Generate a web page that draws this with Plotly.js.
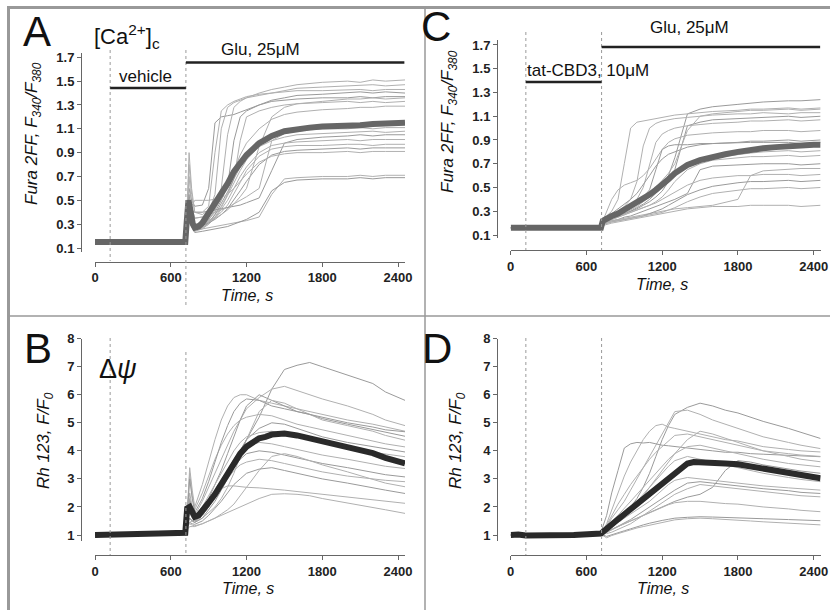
<!DOCTYPE html>
<html><head><meta charset="utf-8">
<script src="https://cdn.plot.ly/plotly-3.0.1.min.js"></script>
<style>html,body{margin:0;padding:0;background:#fff;}#plot{width:830px;height:610px;}</style>
</head><body><div id="plot"></div>
<script>
// ---------- DATA ----------
const xTicks = [0, 600, 1200, 1800, 2400];
const yTicksFura = [0.1, 0.3, 0.5, 0.7, 0.9, 1.1, 1.3, 1.5, 1.7];
const yTicksRh = [1, 2, 3, 4, 5, 6, 7, 8];
const treatStart = 120, gluStart = 720;

// Panel A: Fura 2FF, vehicle
const tCellsA = [0,715,730,745,765,790,850,900,950,1000,1050,1100,1150,1200,1300,1400,1500,1600,1800,2000,2100,2200,2300,2455];
const cellsA = [
 [0.15,0.15,0.35,0.60,0.50,0.45,0.46,0.60,1.15,1.20,1.21,1.22,1.24,1.26,1.30,1.33,1.34,1.35,1.36,1.36,1.37,1.36,1.37,1.37],
 [0.15,0.15,0.40,0.70,0.45,0.35,0.36,0.40,0.55,1.10,1.28,1.32,1.34,1.36,1.38,1.40,1.42,1.44,1.45,1.46,1.46,1.47,1.46,1.47],
 [0.15,0.15,0.45,0.90,0.60,0.40,0.38,0.42,0.48,0.60,1.05,1.28,1.33,1.36,1.40,1.43,1.45,1.47,1.49,1.50,1.49,1.51,1.50,1.51],
 [0.15,0.15,0.35,0.55,0.38,0.30,0.30,0.34,0.40,0.50,0.62,1.00,1.20,1.25,1.30,1.34,1.36,1.38,1.39,1.40,1.41,1.40,1.41,1.40],
 [0.15,0.15,0.30,0.45,0.33,0.27,0.28,0.32,0.38,0.45,0.55,0.68,1.00,1.20,1.25,1.28,1.30,1.31,1.32,1.33,1.32,1.33,1.32,1.33],
 [0.15,0.15,0.30,0.45,0.32,0.26,0.28,0.33,0.42,0.52,0.62,0.75,0.88,0.98,1.10,1.18,1.22,1.24,1.26,1.27,1.28,1.28,1.29,1.29],
 [0.15,0.15,0.28,0.40,0.30,0.25,0.27,0.31,0.38,0.47,0.57,0.68,0.78,0.86,0.98,1.05,1.09,1.11,1.13,1.14,1.14,1.15,1.15,1.15],
 [0.15,0.15,0.28,0.42,0.30,0.24,0.26,0.30,0.36,0.44,0.54,0.65,0.75,0.84,0.95,1.00,1.03,1.05,1.06,1.07,1.07,1.08,1.07,1.08],
 [0.15,0.15,0.30,0.50,0.40,0.35,0.36,0.38,0.40,0.42,0.44,0.47,0.50,0.53,0.60,1.00,1.06,1.08,1.10,1.10,1.11,1.10,1.11,1.11],
 [0.15,0.15,0.30,0.48,0.42,0.40,0.40,0.41,0.42,0.43,0.44,0.45,0.46,0.48,0.52,0.75,0.98,1.01,1.03,1.04,1.05,1.04,1.05,1.05],
 [0.15,0.15,0.28,0.40,0.30,0.25,0.27,0.30,0.35,0.42,0.50,0.60,0.70,0.78,0.90,0.96,0.98,0.99,1.00,1.01,1.00,1.01,1.01,1.01],
 [0.15,0.15,0.30,0.45,0.35,0.30,0.31,0.33,0.36,0.40,0.46,0.55,0.65,0.75,0.87,0.93,0.95,0.96,0.96,0.97,0.97,0.96,0.97,0.97],
 [0.15,0.15,0.28,0.40,0.32,0.28,0.29,0.31,0.34,0.38,0.43,0.50,0.58,0.66,0.80,0.88,0.91,0.92,0.93,0.94,0.93,0.94,0.94,0.94],
 [0.15,0.15,0.30,0.50,0.45,0.50,0.50,0.50,0.51,0.52,0.55,0.60,0.66,0.72,0.82,0.87,0.89,0.90,0.90,0.91,0.90,0.91,0.91,0.91],
 [0.15,0.15,0.28,0.40,0.30,0.26,0.26,0.27,0.28,0.29,0.30,0.31,0.32,0.33,0.36,0.55,0.68,0.69,0.70,0.70,0.71,0.70,0.71,0.71],
 [0.15,0.15,0.27,0.38,0.28,0.23,0.24,0.25,0.26,0.27,0.28,0.30,0.32,0.34,0.40,0.58,0.65,0.67,0.68,0.68,0.69,0.68,0.69,0.69],
 [0.15,0.15,0.40,0.80,0.55,0.40,0.40,0.45,0.90,1.25,1.30,1.33,1.35,1.37,1.39,1.40,1.41,1.42,1.42,1.43,1.43,1.42,1.43,1.43],
 [0.15,0.15,0.30,0.45,0.35,0.30,0.30,0.32,0.35,0.38,0.42,0.47,0.53,0.60,0.95,1.20,1.28,1.31,1.33,1.35,1.35,1.36,1.35,1.36]
];
const tMeanA = [0,120,300,500,715,725,740,750,760,775,790,820,850,900,950,1000,1050,1100,1150,1200,1250,1300,1350,1400,1500,1600,1700,1800,1900,2000,2100,2200,2300,2400,2455];
const meanA  = [0.15,0.15,0.15,0.15,0.15,0.30,0.50,0.45,0.36,0.30,0.27,0.28,0.31,0.39,0.47,0.56,0.64,0.74,0.82,0.88,0.93,0.98,1.01,1.04,1.08,1.10,1.11,1.12,1.12,1.13,1.13,1.14,1.14,1.15,1.15];

// Panel C: Fura 2FF, tat-CBD3
const tCellsC = [0,715,730,760,800,850,900,950,1000,1050,1100,1150,1200,1250,1300,1400,1500,1600,1800,1900,2000,2200,2300,2455];
const cellsC = [
 [0.16,0.17,0.20,0.22,0.24,0.26,0.28,0.30,0.33,0.36,0.40,0.45,0.52,0.60,0.75,1.12,1.16,1.18,1.20,1.21,1.22,1.23,1.23,1.24],
 [0.16,0.16,0.22,0.26,0.30,0.40,0.70,1.00,1.05,1.06,1.07,1.08,1.09,1.10,1.11,1.12,1.13,1.14,1.15,1.16,1.16,1.17,1.16,1.17],
 [0.16,0.16,0.21,0.24,0.27,0.30,0.34,0.40,0.55,0.85,1.00,1.04,1.06,1.07,1.08,1.09,1.10,1.11,1.12,1.12,1.13,1.12,1.13,1.13],
 [0.16,0.16,0.20,0.22,0.24,0.26,0.28,0.30,0.32,0.35,0.38,0.42,0.47,0.55,0.65,1.02,1.05,1.07,1.08,1.09,1.09,1.10,1.09,1.10],
 [0.16,0.16,0.20,0.23,0.25,0.28,0.31,0.35,0.40,0.50,0.70,0.88,0.95,0.98,1.00,1.02,1.03,1.04,1.05,1.06,1.06,1.07,1.06,1.07],
 [0.16,0.16,0.22,0.30,0.40,0.48,0.52,0.54,0.56,0.60,0.66,0.74,0.82,0.88,0.91,0.94,0.95,0.96,0.97,0.97,0.98,0.98,0.97,0.98],
 [0.16,0.16,0.21,0.25,0.28,0.32,0.36,0.40,0.45,0.52,0.60,0.68,0.74,0.78,0.80,0.84,0.86,0.87,0.88,0.89,0.89,0.90,0.89,0.90],
 [0.16,0.16,0.20,0.22,0.24,0.26,0.28,0.31,0.34,0.38,0.42,0.46,0.51,0.56,0.61,0.68,0.72,0.75,0.78,0.79,0.80,0.81,0.80,0.81],
 [0.16,0.16,0.20,0.22,0.23,0.25,0.27,0.29,0.31,0.33,0.35,0.38,0.42,0.48,0.55,0.65,0.70,0.73,0.75,0.76,0.76,0.77,0.76,0.77],
 [0.16,0.16,0.19,0.21,0.22,0.23,0.25,0.26,0.28,0.30,0.32,0.34,0.36,0.38,0.40,0.45,0.65,0.68,0.69,0.69,0.70,0.70,0.69,0.70],
 [0.16,0.16,0.19,0.21,0.22,0.23,0.24,0.25,0.26,0.27,0.28,0.29,0.30,0.31,0.32,0.33,0.34,0.35,0.40,0.60,0.64,0.65,0.66,0.66],
 [0.16,0.16,0.19,0.21,0.23,0.25,0.27,0.29,0.31,0.33,0.35,0.37,0.40,0.43,0.46,0.52,0.56,0.58,0.60,0.60,0.61,0.61,0.60,0.61],
 [0.16,0.16,0.19,0.20,0.21,0.22,0.23,0.24,0.25,0.26,0.28,0.30,0.32,0.35,0.38,0.44,0.48,0.51,0.54,0.55,0.55,0.56,0.55,0.56],
 [0.16,0.16,0.19,0.20,0.21,0.22,0.23,0.24,0.25,0.26,0.27,0.28,0.29,0.31,0.33,0.38,0.42,0.45,0.48,0.49,0.49,0.50,0.49,0.50],
 [0.16,0.16,0.18,0.19,0.20,0.21,0.22,0.23,0.24,0.25,0.26,0.27,0.28,0.29,0.30,0.32,0.33,0.34,0.34,0.35,0.35,0.35,0.34,0.35],
 [0.16,0.16,0.21,0.24,0.26,0.29,0.32,0.35,0.38,0.42,0.48,0.65,0.82,0.85,0.86,0.86,0.87,0.87,0.88,0.88,0.88,0.88,0.87,0.88],
 [0.16,0.16,0.20,0.23,0.25,0.27,0.30,0.33,0.36,0.40,0.45,0.50,0.56,0.62,0.70,0.98,1.10,1.12,1.14,1.15,1.15,1.16,1.15,1.16]
];
const tMeanC = [0,120,400,715,730,760,800,850,900,950,1000,1050,1100,1150,1200,1250,1300,1350,1400,1500,1600,1700,1800,1900,2000,2100,2200,2300,2400,2455];
const meanC  = [0.16,0.16,0.16,0.16,0.22,0.24,0.26,0.28,0.31,0.34,0.37,0.40,0.44,0.48,0.52,0.57,0.62,0.66,0.69,0.73,0.76,0.78,0.80,0.82,0.83,0.84,0.85,0.85,0.86,0.86];

// Panel B: Rh 123, vehicle
const tCellsB = [0,715,730,750,770,790,850,900,950,1000,1050,1100,1150,1200,1300,1400,1500,1600,1700,1800,2000,2200,2300,2455];
const cellsB = [
 [1.00,1.10,1.50,1.60,1.50,1.45,1.70,2.00,2.40,2.80,3.20,3.60,4.00,4.40,5.20,6.20,6.90,7.05,7.15,7.00,6.70,6.40,6.10,5.80],
 [1.00,1.08,1.60,2.20,1.90,1.70,2.20,2.70,3.20,3.70,4.20,4.70,5.10,5.50,5.90,6.20,6.30,6.15,6.00,5.85,5.60,5.30,5.10,4.90],
 [1.00,1.08,1.80,3.40,2.60,2.00,2.80,3.60,4.40,5.10,5.60,5.90,6.00,6.00,5.80,5.70,5.60,5.50,5.40,5.30,5.10,4.95,4.85,4.70],
 [1.00,1.10,1.60,2.30,1.90,1.60,1.90,2.30,2.80,3.30,3.90,4.50,5.10,5.60,6.00,5.80,5.60,5.40,5.30,5.15,4.95,4.75,4.65,4.52],
 [1.00,1.08,1.40,1.60,1.50,1.45,1.60,1.80,2.00,2.30,2.70,3.20,3.80,4.40,5.40,5.80,5.70,5.50,5.30,5.10,4.90,4.70,4.55,4.38],
 [1.00,1.08,1.70,3.20,2.40,1.90,2.50,3.10,3.70,4.20,4.60,4.90,5.10,5.20,5.30,5.25,5.10,4.95,4.85,4.75,4.55,4.35,4.25,4.14],
 [1.00,1.08,1.50,1.80,1.60,1.50,1.70,2.00,2.40,2.80,3.20,3.60,4.00,4.40,4.80,5.00,4.95,4.80,4.65,4.50,4.30,4.15,4.05,3.96],
 [1.00,1.08,1.60,2.50,2.00,1.70,2.00,2.40,2.80,3.20,3.60,4.00,4.30,4.50,4.65,4.70,4.60,4.50,4.40,4.30,4.10,3.95,3.88,3.79],
 [1.00,1.07,1.50,1.90,1.70,1.55,1.80,2.10,2.50,2.90,3.30,3.70,4.00,4.15,4.30,4.25,4.15,4.05,3.95,3.85,3.70,3.55,3.45,3.37],
 [1.00,1.07,1.40,1.60,1.50,1.45,1.60,1.90,2.20,2.60,3.00,3.40,3.70,3.90,4.00,3.95,3.85,3.75,3.65,3.55,3.40,3.25,3.15,3.07],
 [1.00,1.07,1.50,2.00,1.80,1.60,1.80,2.10,2.40,2.70,3.00,3.30,3.50,3.60,3.70,3.65,3.55,3.45,3.35,3.25,3.10,3.00,2.95,2.90],
 [1.00,1.07,1.30,1.40,1.35,1.33,1.40,1.50,1.60,1.75,1.90,2.10,2.40,2.70,3.30,3.80,3.90,3.80,3.65,3.50,3.25,3.00,2.85,2.72],
 [1.00,1.07,1.30,1.45,1.40,1.38,1.50,1.70,1.95,2.20,2.50,2.80,3.00,3.20,3.35,3.40,3.30,3.20,3.10,3.00,2.85,2.70,2.60,2.48],
 [1.00,1.07,1.30,1.45,1.50,1.55,1.80,2.10,2.40,2.65,2.75,2.75,2.72,2.70,2.68,2.65,2.60,2.55,2.50,2.45,2.35,2.25,2.20,2.13],
 [1.00,1.07,1.20,1.30,1.30,1.30,1.40,1.50,1.60,1.70,1.80,1.90,2.00,2.10,2.30,2.45,2.47,2.45,2.40,2.30,2.15,2.00,1.90,1.77],
 [1.00,1.09,1.70,3.00,2.30,1.80,2.30,2.90,3.60,4.30,4.90,5.40,5.70,5.85,5.80,5.60,5.50,5.40,5.30,5.20,5.00,4.85,4.75,4.68]
];
const tMeanB = [0,120,300,500,715,730,750,770,790,820,850,900,950,1000,1050,1100,1150,1200,1250,1300,1350,1400,1450,1500,1600,1700,1800,1900,2000,2100,2200,2300,2400,2455];
const meanB  = [1.00,1.00,1.02,1.05,1.08,1.95,2.00,1.80,1.65,1.70,1.85,2.15,2.45,2.80,3.15,3.55,3.90,4.15,4.32,4.45,4.50,4.58,4.60,4.62,4.55,4.45,4.35,4.25,4.15,4.05,3.92,3.75,3.60,3.55];

// Panel D: Rh 123, tat-CBD3
const tCellsD = [0,715,760,800,850,900,950,1000,1050,1100,1150,1200,1250,1300,1400,1500,1600,1700,1800,1900,2000,2200,2300,2455];
const cellsD = [
 [1.00,1.05,1.20,1.35,1.55,1.75,2.00,2.30,2.70,3.20,3.80,4.40,4.90,5.30,5.55,5.70,5.60,5.45,5.35,5.20,5.05,4.80,4.65,4.44],
 [1.00,1.08,1.30,1.60,1.90,2.20,2.60,3.00,3.40,3.80,4.20,4.60,5.00,5.40,5.45,5.30,5.10,4.95,4.80,4.65,4.50,4.30,4.20,4.08],
 [1.00,1.06,1.40,1.90,2.50,3.10,3.60,4.00,4.40,4.70,4.90,4.95,4.85,4.80,4.70,4.60,4.50,4.40,4.35,4.25,4.15,4.05,4.00,3.96],
 [1.00,1.10,1.70,2.50,3.30,4.10,4.25,4.30,4.28,4.30,4.25,4.20,4.18,4.15,4.10,4.05,4.00,3.95,3.95,3.90,3.88,3.84,3.82,3.79],
 [1.00,1.05,1.15,1.30,1.50,1.70,1.90,2.15,2.40,2.70,3.00,3.30,3.60,3.90,4.40,4.70,4.60,4.45,4.30,4.15,4.00,3.80,3.70,3.61],
 [1.00,1.05,1.25,1.45,1.70,1.95,2.20,2.45,2.70,2.95,3.20,3.45,3.70,3.90,4.15,4.20,4.10,4.00,3.90,3.80,3.70,3.55,3.50,3.43],
 [1.00,1.04,1.10,1.20,1.30,1.40,1.50,1.60,1.70,1.80,1.90,2.00,2.10,2.20,2.35,2.45,2.70,3.30,3.65,3.60,3.50,3.35,3.28,3.20],
 [1.00,1.05,1.20,1.40,1.60,1.80,2.00,2.20,2.45,2.70,2.95,3.20,3.45,3.65,3.80,3.70,3.60,3.50,3.40,3.30,3.20,3.05,2.98,2.90],
 [1.00,1.05,1.15,1.30,1.45,1.60,1.75,1.90,2.05,2.20,2.40,2.60,2.80,2.95,3.05,3.00,2.95,2.90,2.85,2.80,2.75,2.68,2.64,2.60],
 [1.00,1.04,1.10,1.20,1.30,1.42,1.55,1.70,1.85,2.00,2.15,2.30,2.45,2.60,2.85,2.90,2.85,2.80,2.75,2.70,2.65,2.58,2.52,2.48],
 [1.00,1.03,1.05,1.10,1.20,1.30,1.40,1.55,1.70,1.85,2.00,2.15,2.30,2.45,2.65,2.80,2.75,2.70,2.65,2.60,2.55,2.45,2.40,2.36],
 [1.00,1.03,1.10,1.20,1.30,1.40,1.50,1.60,1.70,1.80,1.90,2.00,2.08,2.15,2.20,2.20,2.15,2.12,2.10,2.05,2.00,1.93,1.88,1.83],
 [1.00,1.03,0.95,1.00,1.08,1.15,1.22,1.30,1.36,1.42,1.48,1.52,1.56,1.60,1.63,1.65,1.64,1.63,1.62,1.60,1.58,1.55,1.53,1.51],
 [1.00,1.02,0.90,0.98,1.05,1.12,1.18,1.25,1.30,1.35,1.40,1.45,1.50,1.54,1.58,1.60,1.58,1.56,1.54,1.50,1.47,1.42,1.40,1.36],
 [1.00,1.06,1.35,1.70,2.10,2.45,2.80,3.10,3.40,3.70,3.95,4.15,4.35,4.55,4.60,4.50,4.40,4.30,4.20,4.10,4.00,3.90,3.85,3.80]
];
const tMeanD = [0,60,120,300,500,715,760,800,850,900,950,1000,1050,1100,1150,1200,1250,1300,1350,1400,1450,1500,1600,1700,1800,1900,2000,2100,2200,2300,2400,2455];
const meanD  = [1.00,1.02,0.98,0.97,1.00,1.05,1.20,1.38,1.56,1.74,1.92,2.10,2.30,2.48,2.65,2.82,3.00,3.20,3.38,3.55,3.60,3.58,3.55,3.55,3.52,3.45,3.38,3.30,3.22,3.12,3.05,3.02];

// ---------- BUILD ----------
const W = 830, H = 610;
const px = v => v / W;          // pixel -> paper x
const py = v => 1 - v / H;      // pixel -> paper y

function check(name, t, rows) {
  rows.forEach((r, i) => { if (r.length !== t.length) throw new Error(name + ' row ' + i + ' has ' + r.length + ' vs ' + t.length); });
}
check('A', tCellsA, cellsA); check('B', tCellsB, cellsB); check('C', tCellsC, cellsC); check('D', tCellsD, cellsD);
check('mA', tMeanA, [meanA]); check('mB', tMeanB, [meanB]); check('mC', tMeanC, [meanC]); check('mD', tMeanD, [meanD]);

const traces = [];
function addPanel(tc, cells, tm, mean, xa, ya, meanColor) {
  cells.forEach((row, i) => {
    traces.push({x: tc, y: row, xaxis: xa, yaxis: ya, type: 'scatter', mode: 'lines',
      line: {color: i % 3 === 0 ? '#9a9a9a' : '#b0b0b0', width: 1}, hoverinfo: 'skip'});
  });
  traces.push({x: tm, y: mean, xaxis: xa, yaxis: ya, type: 'scatter', mode: 'lines',
    line: {color: meanColor, width: 6}, hoverinfo: 'skip'});
}
addPanel(tCellsA, cellsA, tMeanA, meanA, 'x', 'y', '#666666');
addPanel(tCellsB, cellsB, tMeanB, meanB, 'x2', 'y2', '#2a2a2a');
addPanel(tCellsC, cellsC, tMeanC, meanC, 'x3', 'y3', '#666666');
addPanel(tCellsD, cellsD, tMeanD, meanD, 'x4', 'y4', '#2a2a2a');

const F = 'Liberation Sans, Arial, sans-serif';
const tickFont = {family: F, size: 13, color: '#222'};
const bold = s => '<b>' + s + '</b>';
function xAxis(domLeft, domRight, posY) {
  return {domain: [px(domLeft), px(domRight)], range: [0, 2455], anchor: 'free', position: py(posY),
    showline: true, linecolor: '#666', linewidth: 1, ticks: 'outside', ticklen: 4, tickcolor: '#666',
    tickvals: xTicks, ticktext: xTicks.map(v => bold(String(v))),
    showgrid: false, zeroline: false, tickfont: tickFont, fixedrange: true};
}
function yAxis(top, bottom, rng, posX, vals, dec) {
  return {domain: [py(bottom), py(top)], range: rng, anchor: 'free', position: px(posX),
    showline: true, linecolor: '#666', linewidth: 1, ticks: 'outside', ticklen: 4, tickcolor: '#666',
    tickvals: vals, ticktext: vals.map(v => bold(v.toFixed(dec))),
    showgrid: false, zeroline: false, tickfont: tickFont, fixedrange: true};
}

// vertical dotted lines & treatment bars (data-x, paper-y)
const shapes = [];
function vline(xa, t, yTop, yBot) {
  shapes.push({type: 'line', xref: xa, yref: 'paper', x0: t, x1: t, y0: py(yTop), y1: py(yBot),
    line: {color: '#9a9a9a', width: 1, dash: 'dot'}});
}
function bar(xa, t0, t1, yp) {
  shapes.push({type: 'line', xref: xa, yref: 'paper', x0: t0, x1: t1, y0: py(yp), y1: py(yp),
    line: {color: '#222', width: 2.5}});
}
vline('x', treatStart, 50, 261); vline('x', gluStart, 50, 305);
vline('x3', treatStart, 32, 250); vline('x3', gluStart, 32, 250);
vline('x2', treatStart, 338, 555); vline('x2', gluStart, 352, 555);
vline('x4', treatStart, 338, 555); vline('x4', gluStart, 338, 555);
bar('x', treatStart, gluStart, 88); bar('x', gluStart, 2450, 62.5);
bar('x3', treatStart, gluStart, 82); bar('x3', gluStart, 2452, 47);

// figure frame
const frame = '#999';
shapes.push({type: 'line', xref: 'paper', yref: 'paper', x0: px(7), x1: 1, y0: py(7.5), y1: py(7.5), line: {color: frame, width: 3}});
shapes.push({type: 'line', xref: 'paper', yref: 'paper', x0: px(8.5), x1: px(8.5), y0: py(6), y1: 0, line: {color: frame, width: 3}});
shapes.push({type: 'line', xref: 'paper', yref: 'paper', x0: px(425), x1: px(425), y0: py(8), y1: 0, line: {color: frame, width: 1.5}});
shapes.push({type: 'line', xref: 'paper', yref: 'paper', x0: px(8), x1: 1, y0: py(316), y1: py(316), line: {color: frame, width: 1.5}});

function ann(text, x, y, size, extra) {
  return Object.assign({text: text, xref: 'paper', yref: 'paper', x: px(x), y: py(y), xanchor: 'center', yanchor: 'middle',
    showarrow: false, font: {family: F, size: size, color: '#111'}}, extra || {});
}
const annotations = [
  ann('A', 37, 31, 42), ann('B', 38, 348, 42), ann('C', 436, 26, 42), ann('D', 437, 348, 42),
  ann('[Ca<sup>2+</sup>]<sub>c</sub>', 127, 36, 22),
  ann('vehicle', 145, 77, 17),
  ann('Glu, 25\u03bcM', 260, 49, 17),
  ann('tat-CBD3, 10\u03bcM', 588, 70, 17),
  ann('Glu, 25\u03bcM', 689, 27, 17),
  ann('\u0394<i>\u03c8</i>', 118, 369, 27),
  ann('<i>Fura 2FF, F<sub>340</sub>/F<sub>380</sub></i>', 33, 134, 17, {textangle: -90}),
  ann('<i>Fura 2FF, F<sub>340</sub>/F<sub>380</sub></i>', 449, 122, 17, {textangle: -90}),
  ann('<i>Rh 123, F/F<sub>0</sub></i>', 45, 441, 17, {textangle: -90}),
  ann('<i>Rh 123, F/F<sub>0</sub></i>', 457, 441, 17, {textangle: -90}),
  ann('<i>Time, s</i>', 247, 295, 16), ann('<i>Time, s</i>', 662, 284, 16),
  ann('<i>Time, s</i>', 248, 588, 16), ann('<i>Time, s</i>', 663, 588, 16)
];

const layout = {
  width: W, height: H, margin: {l: 0, r: 0, t: 0, b: 0}, paper_bgcolor: '#fff', plot_bgcolor: 'rgba(0,0,0,0)',
  showlegend: false,
  xaxis:  xAxis(95, 405, 261.5),
  yaxis:  yAxis(53, 252, [0.0664, 1.736], 81, yTicksFura, 1),
  xaxis2: xAxis(95, 405, 555),
  yaxis2: yAxis(338.5, 541, [0.786, 8.005], 81, yTicksRh, 0),
  xaxis3: xAxis(510.7, 820.6, 250),
  yaxis3: yAxis(40, 238, [0.0747, 1.742], 497, yTicksFura, 1),
  xaxis4: xAxis(510.7, 820.6, 555),
  yaxis4: yAxis(338.5, 541, [0.786, 8.005], 497, yTicksRh, 0),
  shapes: shapes, annotations: annotations
};
Plotly.newPlot('plot', traces, layout, {displayModeBar: false});
</script></body></html>
